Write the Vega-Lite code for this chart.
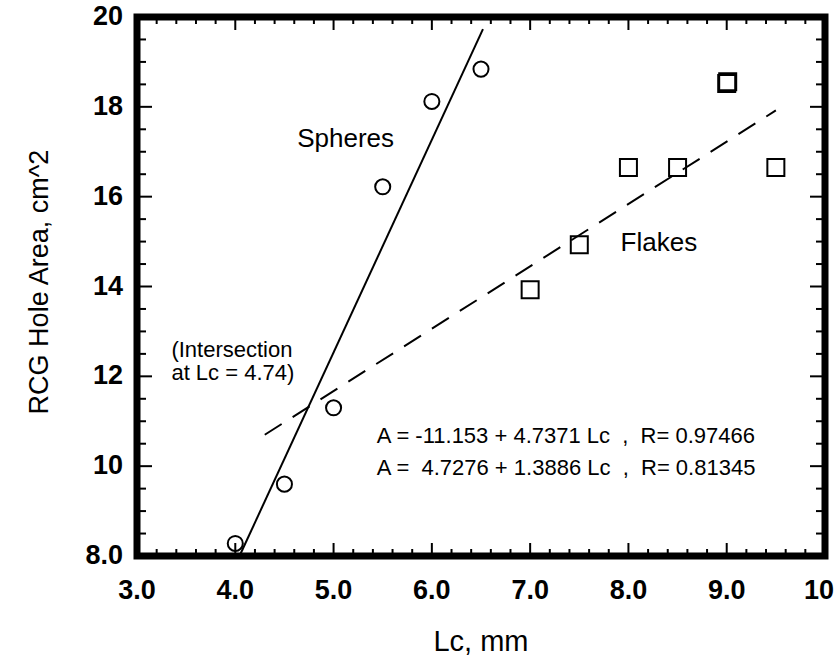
{
  "$schema": "https://vega.github.io/schema/vega-lite/v6.json",
  "width": 688,
  "height": 539,
  "autosize": {"type": "none"},
  "padding": {"left": 137, "top": 17, "right": 14, "bottom": 106},
  "background": "white",
  "config": {
    "font": "Liberation Sans",
    "view": {"stroke": "black", "strokeWidth": 7},
    "axis": {"domain": false, "grid": false}
  },
  "datasets": {
    "xminor": [{"v": 3.2}, {"v": 3.4}, {"v": 3.6}, {"v": 3.8}, {"v": 4.2}, {"v": 4.4}, {"v": 4.6}, {"v": 4.8}, {"v": 5.2}, {"v": 5.4}, {"v": 5.6}, {"v": 5.8}, {"v": 6.2}, {"v": 6.4}, {"v": 6.6}, {"v": 6.8}, {"v": 7.2}, {"v": 7.4}, {"v": 7.6}, {"v": 7.8}, {"v": 8.2}, {"v": 8.4}, {"v": 8.6}, {"v": 8.8}, {"v": 9.2}, {"v": 9.4}, {"v": 9.6}, {"v": 9.8}],
    "xmajor": [{"v": 4}, {"v": 5}, {"v": 6}, {"v": 7}, {"v": 8}, {"v": 9}],
    "yminor": [{"v": 8.5}, {"v": 9}, {"v": 9.5}, {"v": 10.5}, {"v": 11}, {"v": 11.5}, {"v": 12.5}, {"v": 13}, {"v": 13.5}, {"v": 14.5}, {"v": 15}, {"v": 15.5}, {"v": 16.5}, {"v": 17}, {"v": 17.5}, {"v": 18.5}, {"v": 19}, {"v": 19.5}],
    "ymajor": [{"v": 10}, {"v": 12}, {"v": 14}, {"v": 16}, {"v": 18}],
    "xlabels": [{"v": 3, "t": "3.0"}, {"v": 4, "t": "4.0"}, {"v": 5, "t": "5.0"}, {"v": 6, "t": "6.0"}, {"v": 7, "t": "7.0"}, {"v": 8, "t": "8.0"}, {"v": 9, "t": "9.0"}],
    "ylabels": [{"v": 8, "t": "8.0"}, {"v": 10, "t": "10"}, {"v": 12, "t": "12"}, {"v": 14, "t": "14"}, {"v": 16, "t": "16"}, {"v": 18, "t": "18"}, {"v": 20, "t": "20"}]
  },
  "layer": [
    {
      "data": {"values": [
        {"Lc": 4.0, "A": 8.28},
        {"Lc": 4.5, "A": 9.6},
        {"Lc": 5.0, "A": 11.3},
        {"Lc": 5.5, "A": 16.22},
        {"Lc": 6.0, "A": 18.12},
        {"Lc": 6.5, "A": 18.84}
      ]},
      "mark": {"type": "point", "shape": "circle", "filled": false, "stroke": "black", "strokeWidth": 2, "size": 227, "opacity": 1},
      "encoding": {
        "x": {"field": "Lc", "type": "quantitative", "scale": {"domain": [3, 10], "nice": false, "zero": false}, "axis": null},
        "y": {"field": "A", "type": "quantitative", "scale": {"domain": [8, 20], "nice": false, "zero": false}, "axis": null}
      }
    },
    {
      "data": {"values": [
        {"Lc": 7.0, "A": 13.93},
        {"Lc": 7.5, "A": 14.93},
        {"Lc": 8.0, "A": 16.65},
        {"Lc": 8.5, "A": 16.65},
        {"Lc": 9.0, "A": 18.52},
        {"Lc": 9.01, "A": 18.56},
        {"Lc": 9.5, "A": 16.65}
      ]},
      "mark": {"type": "point", "shape": "square", "filled": false, "stroke": "black", "strokeWidth": 2, "size": 289, "opacity": 1},
      "encoding": {
        "x": {"field": "Lc", "type": "quantitative", "axis": null},
        "y": {"field": "A", "type": "quantitative", "axis": null}
      }
    },
    {
      "data": {"values": [
        {"Lc": 4.043, "A": 8.0},
        {"Lc": 6.52, "A": 19.73}
      ]},
      "mark": {"type": "line", "color": "black", "strokeWidth": 2},
      "encoding": {
        "x": {"field": "Lc", "type": "quantitative", "axis": null},
        "y": {"field": "A", "type": "quantitative", "axis": null}
      }
    },
    {
      "data": {"values": [
        {"Lc": 4.3, "A": 10.70},
        {"Lc": 9.5, "A": 17.92}
      ]},
      "mark": {"type": "line", "color": "black", "strokeWidth": 2, "strokeDash": [20, 13]},
      "encoding": {
        "x": {"field": "Lc", "type": "quantitative", "axis": null},
        "y": {"field": "A", "type": "quantitative", "axis": null}
      }
    },
    {
      "data": {"name": "xminor"},
      "mark": {"type": "rule", "color": "black", "strokeWidth": 2, "yOffset": -7},
      "encoding": {"x": {"field": "v", "type": "quantitative", "axis": null}, "y": {"datum": 8, "type": "quantitative", "axis": null}, "y2": {"datum": 8}}
    },
    {
      "data": {"name": "xmajor"},
      "mark": {"type": "rule", "color": "black", "strokeWidth": 2, "yOffset": -13},
      "encoding": {"x": {"field": "v", "type": "quantitative", "axis": null}, "y": {"datum": 8, "type": "quantitative", "axis": null}, "y2": {"datum": 8}}
    },
    {
      "data": {"name": "xminor"},
      "mark": {"type": "rule", "color": "black", "strokeWidth": 2, "yOffset": 7},
      "encoding": {"x": {"field": "v", "type": "quantitative", "axis": null}, "y": {"datum": 20, "type": "quantitative", "axis": null}, "y2": {"datum": 20}}
    },
    {
      "data": {"name": "xmajor"},
      "mark": {"type": "rule", "color": "black", "strokeWidth": 2, "yOffset": 13},
      "encoding": {"x": {"field": "v", "type": "quantitative", "axis": null}, "y": {"datum": 20, "type": "quantitative", "axis": null}, "y2": {"datum": 20}}
    },
    {
      "data": {"name": "yminor"},
      "mark": {"type": "rule", "color": "black", "strokeWidth": 2, "xOffset": 9},
      "encoding": {"y": {"field": "v", "type": "quantitative", "axis": null}, "x": {"datum": 3, "type": "quantitative", "axis": null}, "x2": {"datum": 3}}
    },
    {
      "data": {"name": "ymajor"},
      "mark": {"type": "rule", "color": "black", "strokeWidth": 2, "xOffset": 15},
      "encoding": {"y": {"field": "v", "type": "quantitative", "axis": null}, "x": {"datum": 3, "type": "quantitative", "axis": null}, "x2": {"datum": 3}}
    },
    {
      "data": {"name": "yminor"},
      "mark": {"type": "rule", "color": "black", "strokeWidth": 2, "xOffset": -9},
      "encoding": {"y": {"field": "v", "type": "quantitative", "axis": null}, "x": {"datum": 10, "type": "quantitative", "axis": null}, "x2": {"datum": 10}}
    },
    {
      "data": {"name": "ymajor"},
      "mark": {"type": "rule", "color": "black", "strokeWidth": 2, "xOffset": -15},
      "encoding": {"y": {"field": "v", "type": "quantitative", "axis": null}, "x": {"datum": 10, "type": "quantitative", "axis": null}, "x2": {"datum": 10}}
    },
    {
      "data": {"name": "xlabels"},
      "mark": {"type": "text", "align": "center", "baseline": "middle", "fontSize": 27, "fontWeight": "bold", "color": "black", "font": "Liberation Sans", "yOffset": 35},
      "encoding": {"x": {"field": "v", "type": "quantitative", "axis": null}, "y": {"datum": 8, "type": "quantitative", "axis": null}, "text": {"field": "t"}}
    },
    {
      "data": {"values": [{"v": 10, "t": "10"}]},
      "mark": {"type": "text", "align": "center", "baseline": "middle", "fontSize": 27, "fontWeight": "bold", "color": "black", "font": "Liberation Sans", "yOffset": 35, "xOffset": -6},
      "encoding": {"x": {"field": "v", "type": "quantitative", "axis": null}, "y": {"datum": 8, "type": "quantitative", "axis": null}, "text": {"field": "t"}}
    },
    {
      "data": {"name": "ylabels"},
      "mark": {"type": "text", "align": "right", "baseline": "middle", "fontSize": 27, "fontWeight": "bold", "color": "black", "font": "Liberation Sans", "xOffset": -14},
      "encoding": {"y": {"field": "v", "type": "quantitative", "axis": null}, "x": {"datum": 3, "type": "quantitative", "axis": null}, "text": {"field": "t"}}
    },
    {
      "data": {"values": [{"t": "Lc, mm"}]},
      "mark": {"type": "text", "align": "center", "baseline": "middle", "fontSize": 29, "color": "black", "font": "Liberation Sans", "yOffset": 86},
      "encoding": {"x": {"datum": 6.5, "type": "quantitative", "axis": null}, "y": {"datum": 8, "type": "quantitative", "axis": null}, "text": {"field": "t"}}
    },
    {
      "data": {"values": [{"t": "RCG Hole Area, cm^2"}]},
      "mark": {"type": "text", "align": "center", "baseline": "middle", "fontSize": 27, "angle": 270, "color": "black", "font": "Liberation Sans", "xOffset": -97},
      "encoding": {"x": {"datum": 3, "type": "quantitative", "axis": null}, "y": {"datum": 14.1, "type": "quantitative", "axis": null}, "text": {"field": "t"}}
    },
    {
      "data": {"values": [
        {"label": "Spheres", "Lc": 4.63, "A": 17.29},
        {"label": "Flakes", "Lc": 7.92, "A": 14.96}
      ]},
      "mark": {"type": "text", "align": "left", "baseline": "middle", "fontSize": 26, "color": "black", "font": "Liberation Sans"},
      "encoding": {
        "x": {"field": "Lc", "type": "quantitative", "axis": null},
        "y": {"field": "A", "type": "quantitative", "axis": null},
        "text": {"field": "label"}
      }
    },
    {
      "data": {"values": [
        {"label": "(Intersection\nat Lc = 4.74)", "Lc": 3.35, "A": 12.58},
        {"label": "A = -11.153 + 4.7371 Lc\u00a0\u00a0,\u00a0\u00a0R= 0.97466", "Lc": 5.44, "A": 10.67},
        {"label": "A =\u00a0\u00a04.7276 + 1.3886 Lc\u00a0\u00a0,\u00a0\u00a0R= 0.81345", "Lc": 5.44, "A": 9.96}
      ]},
      "mark": {"type": "text", "align": "left", "baseline": "middle", "fontSize": 22, "lineHeight": 23, "lineBreak": "\n", "color": "black", "font": "Liberation Sans"},
      "encoding": {
        "x": {"field": "Lc", "type": "quantitative", "axis": null},
        "y": {"field": "A", "type": "quantitative", "axis": null},
        "text": {"field": "label"}
      }
    }
  ]
}
